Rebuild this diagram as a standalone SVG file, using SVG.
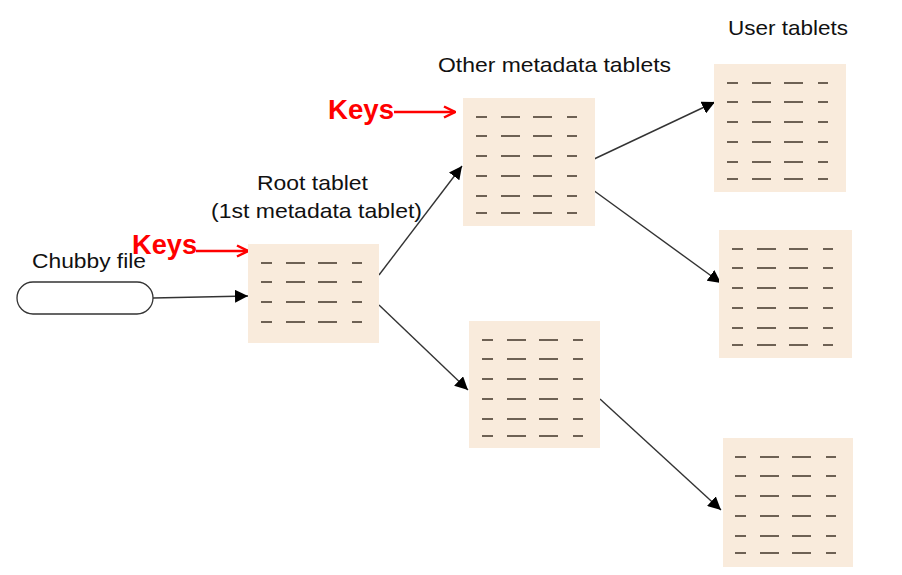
<svg xmlns="http://www.w3.org/2000/svg" width="902" height="575" viewBox="0 0 902 575">
<style>
.tab{fill:#f9ebdc}
.d{stroke:#6e6154;stroke-width:2;fill:none}
.lbl{font-family:"Liberation Sans",Arial,sans-serif;font-size:21px;fill:#111}
.key{font-family:"Liberation Sans",Arial,sans-serif;font-size:27px;font-weight:bold;fill:#f00}
.conn{stroke:#333;stroke-width:1.4;fill:none}
.red{stroke:#f00;stroke-width:2.5;fill:none}
</style>
<defs>
<marker id="ah" viewBox="0 0 13 13" refX="13" refY="6.5" markerWidth="13" markerHeight="13" markerUnits="userSpaceOnUse" orient="auto">
<path d="M0,0 L13,6.5 L0,13 Z" fill="#000"/>
</marker>
<marker id="rh" viewBox="0 0 13 14" refX="12" refY="7" markerWidth="13" markerHeight="14" markerUnits="userSpaceOnUse" orient="auto">
<path d="M1,1.5 L12,7 L1,12.5" fill="none" stroke="#f00" stroke-width="2.5"/>
</marker>
<g id="rows4">
<path class="d" d="M13,19h11M38,19h19M70,19h19M104,19h10M13,38h11M38,38h19M70,38h19M104,38h10M13,58h11M38,58h19M70,58h19M104,58h10M13,78h11M38,78h19M70,78h19M104,78h10"/>
</g>
<g id="rows6">
<use href="#rows4"/>
<path class="d" d="M13,98h11M38,98h19M70,98h19M104,98h10M13,115h11M38,115h19M70,115h19M104,115h10"/>
</g>
</defs>
<rect width="902" height="575" fill="#fff"/>
<g id="connectors">
<line class="conn" x1="153" y1="298" x2="248" y2="296" marker-end="url(#ah)"/>
<line class="conn" x1="379" y1="275" x2="462" y2="166" marker-end="url(#ah)"/>
<line class="conn" x1="379" y1="305" x2="468" y2="390" marker-end="url(#ah)"/>
<line class="conn" x1="592" y1="160" x2="715" y2="102" marker-end="url(#ah)"/>
<line class="conn" x1="593" y1="190" x2="721" y2="283" marker-end="url(#ah)"/>
<line class="conn" x1="600" y1="399" x2="721" y2="510" marker-end="url(#ah)"/>
<line class="red" x1="196" y1="251" x2="248" y2="251" marker-end="url(#rh)"/>
<line class="red" x1="394" y1="112" x2="455" y2="112" marker-end="url(#rh)"/>
</g>
<g id="chubby">
<rect x="17" y="282" width="136" height="32" rx="16" ry="16" fill="#fff" stroke="#333" stroke-width="1.3"/>
<text class="lbl" x="32" y="268" textLength="114" lengthAdjust="spacingAndGlyphs">Chubby file</text>
</g>
<g id="root">
<rect class="tab" x="248" y="244" width="131" height="99"/>
<use href="#rows4" transform="translate(248,244)"/>
<text class="lbl" x="257" y="190" textLength="111" lengthAdjust="spacingAndGlyphs">Root tablet</text>
<text class="lbl" x="211" y="218" textLength="211" lengthAdjust="spacingAndGlyphs">(1st metadata tablet)</text>
<text class="key" x="132" y="254" textLength="65" lengthAdjust="spacingAndGlyphs">Keys</text>
</g>
<g id="meta1">
<rect class="tab" x="463" y="98" width="132" height="128"/>
<use href="#rows6" transform="translate(463,98)"/>
<text class="lbl" x="438" y="72" textLength="233" lengthAdjust="spacingAndGlyphs">Other metadata tablets</text>
<text class="key" x="328" y="119" textLength="66" lengthAdjust="spacingAndGlyphs">Keys</text>
</g>
<g id="meta2">
<rect class="tab" x="469" y="321" width="131" height="127"/>
<use href="#rows6" transform="translate(469,321)"/>
</g>
<g id="user1">
<rect class="tab" x="714" y="64" width="132" height="128"/>
<use href="#rows6" transform="translate(714,64)"/>
<text class="lbl" x="728" y="35" textLength="120" lengthAdjust="spacingAndGlyphs">User tablets</text>
</g>
<g id="user2">
<rect class="tab" x="719" y="230" width="133" height="128"/>
<use href="#rows6" transform="translate(719,230)"/>
</g>
<g id="user3">
<rect class="tab" x="723" y="438" width="130" height="129"/>
<use href="#rows6" transform="translate(722,438)"/>
</g>
</svg>
